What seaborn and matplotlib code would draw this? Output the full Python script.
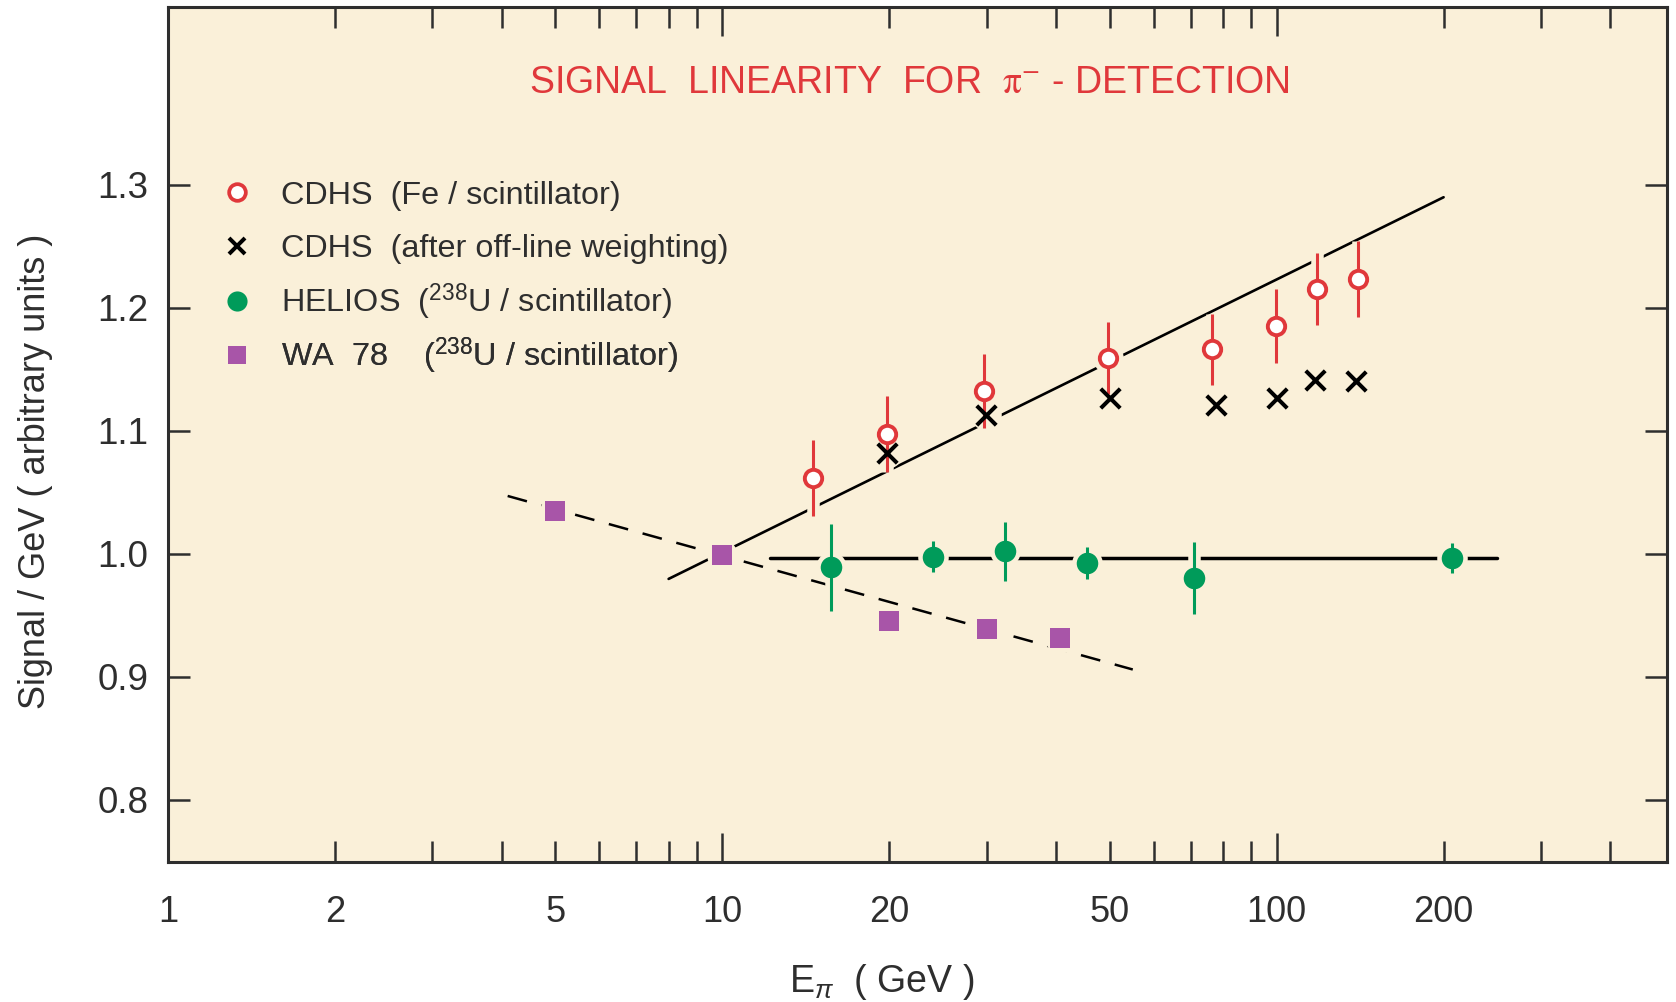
import matplotlib
matplotlib.use("Agg")
import matplotlib.pyplot as plt
import matplotlib.patheffects as pe
from matplotlib.lines import Line2D
from matplotlib.ticker import NullFormatter, NullLocator
import seaborn as sns

# ---------------- data ----------------
cdhs_e = [14.6, 19.8, 29.6, 49.6, 76.3, 99.9, 118, 140]
cdhs_sig = [1.0615, 1.0975, 1.132, 1.159, 1.166, 1.185, 1.215, 1.223]
cdhs_err = [0.031, 0.031, 0.030, 0.029, 0.029, 0.030, 0.029, 0.031]

cdhsw_e = [19.8, 29.9, 50, 77.7, 100, 117, 139]
cdhsw_sig = [1.0815, 1.1126, 1.1264, 1.1213, 1.1262, 1.1416, 1.1408]

helios_e = [15.7, 24, 32.4, 45.5, 71, 207]
helios_sig = [0.9889, 0.9976, 1.0019, 0.9922, 0.9803, 0.9965]
helios_err = [0.035, 0.0125, 0.024, 0.013, 0.029, 0.012]

wa78_e = [5, 10, 20, 30, 40.7]
wa78_sig = [1.035, 0.9987, 0.9458, 0.9393, 0.9315]

# trend lines drawn in the figure (end points)
cdhs_fit_e = [8.0, 200.0]
cdhs_fit_sig = [0.9796, 1.2897]
helios_fit_e = [12.2, 250.0]
helios_fit_sig = [0.997, 0.997]
wa78_fit_e = [4.1, 55.0]
wa78_fit_sig = [1.047, 0.906]

x_major = [1, 2, 5, 10, 20, 50, 100, 200]
x_labels = ["1", "2", "5", "10", "20", "50", "100", "200"]
x_minor = [3, 4, 6, 7, 8, 9, 30, 40, 60, 70, 80, 90, 300, 400]
x_long = [10, 100]
y_ticks = [0.8, 0.9, 1.0, 1.1, 1.2, 1.3]
y_labels = ["0.8", "0.9", "1.0", "1.1", "1.2", "1.3"]

title = r"SIGNAL  LINEARITY  FOR  $\mathrm{\pi}^{-}$ - DETECTION"
legend_labels = [
    "CDHS  (Fe / scintillator)",
    "CDHS  (after off-line weighting)",
    r"HELIOS  ($^{238}$U / scintillator)",
    r"WA  78    ($^{238}$U / scintillator)",
]

# ---------------- style ----------------
BG = "#FAF0D9"
RED = "#E0383B"
GREEN = "#009B5A"
PURPLE = "#A855A8"
DARK = "#2E2E2E"

sns.set_theme(style="ticks")
plt.rcParams["font.family"] = ["Liberation Sans", "DejaVu Sans"]
plt.rcParams["mathtext.fontset"] = "custom"
plt.rcParams["mathtext.rm"] = "Liberation Sans"
plt.rcParams["mathtext.it"] = "Liberation Sans:italic"
plt.rcParams["mathtext.bf"] = "Liberation Sans:bold"

fig = plt.figure(figsize=(16.76, 10.02), dpi=100)
fig.patch.set_facecolor("white")
ax = fig.add_axes([0.1002, 0.1402, 0.8942, 0.8525])
ax.set_facecolor(BG)
ax.set_xscale("log")

# ---------------- trend lines ----------------
sns.lineplot(x=cdhs_fit_e, y=cdhs_fit_sig, ax=ax, color="black", lw=1.9,
             estimator=None, sort=False, zorder=2)
sns.lineplot(x=helios_fit_e, y=helios_fit_sig, ax=ax, color="black", lw=2.5,
             estimator=None, sort=False, zorder=2)
sns.lineplot(x=wa78_fit_e, y=wa78_fit_sig, ax=ax, color="black", lw=1.8,
             linestyle=(0, (8, 6)), estimator=None, sort=False, zorder=2)

# ---------------- halos (gaps in the lines around the points) ----------------
halo_s = 22 ** 2
for xs, ys in [(cdhs_e, cdhs_sig), (cdhsw_e, cdhsw_sig),
               (helios_e, helios_sig), (wa78_e, wa78_sig)]:
    sns.scatterplot(x=xs, y=ys, ax=ax, s=halo_s, color=BG, linewidth=0,
                    marker="o", zorder=3, legend=False)

# ---------------- error bars ----------------
halo_pe = [pe.Stroke(linewidth=9, foreground=BG), pe.Normal()]
eb1 = ax.errorbar(cdhs_e, cdhs_sig, yerr=cdhs_err, fmt="none", ecolor=RED,
                  elinewidth=2.2, capsize=0, zorder=4)
eb2 = ax.errorbar(helios_e, helios_sig, yerr=helios_err, fmt="none", ecolor=GREEN,
                  elinewidth=2.2, capsize=0, zorder=4)
for eb in (eb1, eb2):
    for lc in eb.lines[2]:
        lc.set_path_effects(halo_pe)

# ---------------- markers ----------------
sns.scatterplot(x=cdhs_e, y=cdhs_sig, ax=ax, marker="o", s=12.5 ** 2,
                facecolor="white", edgecolor=RED, linewidth=2.8, zorder=5, legend=False)
sns.scatterplot(x=cdhsw_e, y=cdhsw_sig, ax=ax, marker="x", s=14 ** 2,
                color="black", linewidth=2.9, zorder=5, legend=False)
sns.scatterplot(x=helios_e, y=helios_sig, ax=ax, marker="o", s=15.5 ** 2,
                color=GREEN, linewidth=0, zorder=5, legend=False)
sns.scatterplot(x=wa78_e, y=wa78_sig, ax=ax, marker="s", s=14 ** 2,
                color=PURPLE, linewidth=0, zorder=5, legend=False)

# ---------------- axes ----------------
ax.set_xlim(1, 505)
ax.set_ylim(0.75, 1.444)
ax.set_xticks(x_major, x_labels)
ax.set_xticks(x_minor, minor=True)
ax.xaxis.set_minor_formatter(NullFormatter())
ax.set_yticks(y_ticks, y_labels)
ax.yaxis.set_minor_locator(NullLocator())

ax.tick_params(axis="x", which="both", direction="in", top=True, bottom=True,
               length=14.9, width=1.8, color=DARK, labelsize=26, pad=24,
               labelcolor=DARK)
ax.tick_params(axis="y", which="major", direction="in", left=True, right=True,
               length=15.5, width=1.8, color=DARK, labelsize=26.5, pad=14,
               labelcolor=DARK)
for s in ax.spines.values():
    s.set_linewidth(2.2)
    s.set_color(DARK)
    s.set_visible(True)

for tick, v in zip(ax.xaxis.get_major_ticks(), x_major):
    if v in x_long:
        tick.tick1line.set_markersize(20.9)
        tick.tick2line.set_markersize(20.9)

ax.set_xlabel(r"E$_{\pi}$  ( GeV )", fontsize=27, color=DARK)
ax.xaxis.set_label_coords(0.476, -0.118)
ax.set_ylabel("Signal / GeV ( arbitrary units )", fontsize=26, color=DARK)
ax.yaxis.set_label_coords(-0.0765, 0.457)

ax.text(0.495, 0.911, title, transform=ax.transAxes, ha="center", va="center",
        color=RED, fontsize=27, math_fontfamily="stix")

# ---------------- legend (one row per entry, evenly spaced) ----------------
handles = [
    Line2D([], [], ls="none", marker="o", markersize=12, mfc="white", mec=RED, mew=2.7),
    Line2D([], [], ls="none", marker="x", markersize=11, color="black", mew=2.9),
    Line2D([], [], ls="none", marker="o", markersize=14.5, mfc=GREEN, mec=GREEN, mew=0),
    Line2D([], [], ls="none", marker="s", markersize=13, mfc=PURPLE, mec=PURPLE, mew=0),
]
row_y = [0.7795, 0.7169, 0.6544, 0.5919]
for h, lab, yy in zip(handles, legend_labels, row_y):
    lg = ax.legend([h], [lab], loc="center left", bbox_to_anchor=(0.0352, yy),
                   frameon=False, fontsize=23.3, borderpad=0, borderaxespad=0,
                   handlelength=1.0, handletextpad=0.86)
    for t in lg.get_texts():
        t.set_color(DARK)
    ax.add_artist(lg)

fig.savefig("out.png", dpi=100, facecolor="white")
